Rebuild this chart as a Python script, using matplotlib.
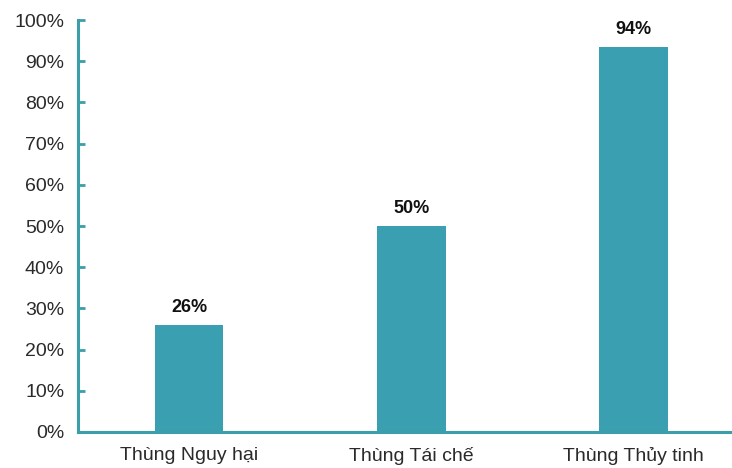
import matplotlib.pyplot as plt
from matplotlib.ticker import PercentFormatter

plt.rcParams["font.family"] = ["Liberation Sans", "DejaVu Sans"]

cats = ["Thùng Nguy hại", "Thùng Tái chế", "Thùng Thủy tinh"]
vals = [26, 50, 93.5]
labels = ["26%", "50%", "94%"]
bar_color = "#3a9fb0"
axis_color = "#3b9ea8"

fig = plt.figure(figsize=(7.32, 4.68), dpi=100)
ax = fig.add_axes([0.1066, 0.077, 0.91, 0.88])

bars = ax.bar(range(len(cats)), vals, width=0.31, color=bar_color)
for b, v, t in zip(bars, vals, labels):
    ax.text(b.get_x() + b.get_width() / 2, v + 2.2, t, ha="center", va="bottom",
            fontsize=13, fontweight="bold", color="#111111")

ax.set_xlim(-0.5, 2.5)
ax.set_ylim(0, 100)
ax.set_yticks(range(0, 101, 10))
ax.yaxis.set_major_formatter(PercentFormatter(decimals=0))
ax.set_xticks(range(len(cats)))
ax.set_xticklabels(cats)

for s in ["top", "right"]:
    ax.spines[s].set_visible(False)
for s in ["left", "bottom"]:
    ax.spines[s].set_color(axis_color)
    ax.spines[s].set_linewidth(2.2)
ax.tick_params(axis="y", direction="in", length=5, width=2, color=axis_color,
               labelsize=14, labelcolor="#2a2a2a", pad=10)
ax.tick_params(axis="x", length=0, labelsize=14, labelcolor="#2a2a2a", pad=11)

fig.savefig("out.png", dpi=100)
